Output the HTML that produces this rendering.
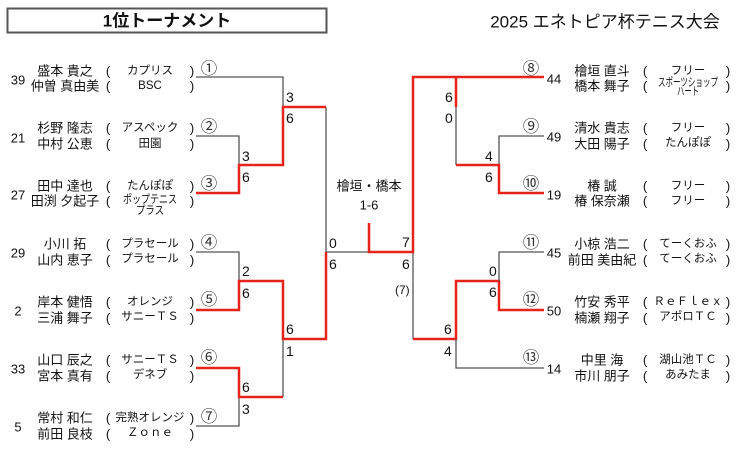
<!DOCTYPE html>
<html><head><meta charset="utf-8"><style>
html,body{margin:0;padding:0;background:#fff;}
svg{display:block;font-family:"Liberation Sans","Noto Sans CJK JP",sans-serif;}
text{dominant-baseline:central;fill:#111;}
.g{stroke:#555;stroke-width:1.3;fill:none;}
.r{stroke:#e8231b;stroke-width:2.5;fill:none;}
.n{font-size:13px;text-anchor:middle;}
.c{font-size:11.5px;text-anchor:middle;}
.s{font-size:14px;}
.o{font-size:16.5px;text-anchor:middle;fill:#333;}
</style></head><body>
<svg width="740" height="463" viewBox="0 0 740 463">
<rect x="7.5" y="8.5" width="319" height="24" fill="none" stroke="#555" stroke-width="2"/>
<text x="167" y="21" font-size="17" font-weight="bold" text-anchor="middle">1位トーナメント</text>
<text x="605" y="22" font-size="17" text-anchor="middle">2025 エネトピア杯テニス大会</text>

<path class="g" d="M196 77H283V107 M196 136H239V165 M239 193V165 M326 107V252H369 M196 252H239V281 M283 339V397 M239 397V426H196 M413 252V339"/>
<path class="r" d="M196 193H239V165H283V107H326 M283 165V107 M196 310H239V281H283V339H326V252 M196 368H239V397H283 M369 223V252H413V77H544"/>
<path class="r" d="M413 339H456V281H499V310H544"/>
<path class="g" d="M456 107V165 M499 165V136H544 M499 281V252H544 M456 339V368H544"/>
<path class="r" d="M456 77V107 M456 165H499V193H544"/>

<g class="s">
<text x="286" y="97">3</text><text x="286" y="118">6</text>
<text x="242" y="156">3</text><text x="242" y="177">6</text>
<text x="242" y="271">2</text><text x="242" y="293">6</text>
<text x="286" y="329">6</text><text x="286" y="351">1</text>
<text x="242" y="387">6</text><text x="242" y="409">3</text>
<text x="329" y="243">0</text><text x="329" y="264">6</text>
<text x="402" y="242">7</text><text x="402" y="264">6</text>
<text x="395" y="290" font-size="12">(7)</text>
<text x="445" y="97">6</text><text x="445" y="118">0</text>
<text x="485" y="156">4</text><text x="485" y="177">6</text>
<text x="489" y="271">0</text><text x="489" y="292">6</text>
<text x="444" y="329">6</text><text x="444" y="351">4</text>
</g>
<text x="369" y="186" class="n">檜垣・橋本</text>
<text x="369" y="205" class="n">1-6</text>

<g>
<text x="18" y="80" class="n">39</text><text x="65" y="71" class="n">盛本 貴之</text><text x="65" y="86" class="n">仲曽 真由美</text>
<text x="108" y="71" class="n">(</text><text x="108" y="86" class="n">(</text><text x="150" y="71" class="c">カプリス</text><text x="150" y="86" class="c" font-size="10">BSC</text>
<text x="192" y="71" class="n">)</text><text x="192" y="86" class="n">)</text><text x="209" y="69" class="o">①</text>

<text x="18" y="138" class="n">21</text><text x="65" y="128" class="n">杉野 隆志</text><text x="65" y="144" class="n">中村 公恵</text>
<text x="108" y="128" class="n">(</text><text x="108" y="144" class="n">(</text><text x="150" y="128" class="c">アスペック</text><text x="150" y="144" class="c">田園</text>
<text x="192" y="128" class="n">)</text><text x="192" y="144" class="n">)</text><text x="209" y="127" class="o">②</text>

<text x="18" y="195" class="n">27</text><text x="65" y="186" class="n">田中 達也</text><text x="65" y="201" class="n">田渕 夕起子</text>
<text x="108" y="186" class="n">(</text><text x="108" y="201" class="n">(</text><text x="150" y="186" class="c">たんぽぽ</text><text x="150" y="200" class="c" font-size="10" textLength="54" lengthAdjust="spacingAndGlyphs">ポップテニス</text><text x="150" y="211" class="c" font-size="10" textLength="28" lengthAdjust="spacingAndGlyphs">プラス</text>
<text x="192" y="186" class="n">)</text><text x="192" y="201" class="n">)</text><text x="209" y="184" class="o">③</text>

<text x="18" y="253" class="n">29</text><text x="65" y="244" class="n">小川 拓</text><text x="65" y="260" class="n">山内 恵子</text>
<text x="108" y="244" class="n">(</text><text x="108" y="260" class="n">(</text><text x="150" y="244" class="c">プラセール</text><text x="150" y="259" class="c">プラセール</text>
<text x="192" y="244" class="n">)</text><text x="192" y="260" class="n">)</text><text x="209" y="243" class="o">④</text>

<text x="18" y="311" class="n">2</text><text x="65" y="302" class="n">岸本 健悟</text><text x="65" y="318" class="n">三浦 舞子</text>
<text x="108" y="302" class="n">(</text><text x="108" y="318" class="n">(</text><text x="150" y="302" class="c">オレンジ</text><text x="150" y="317" class="c">サニーＴＳ</text>
<text x="192" y="302" class="n">)</text><text x="192" y="318" class="n">)</text><text x="209" y="300" class="o">⑤</text>

<text x="18" y="369" class="n">33</text><text x="65" y="360" class="n">山口 辰之</text><text x="65" y="376" class="n">宮本 真有</text>
<text x="108" y="360" class="n">(</text><text x="108" y="376" class="n">(</text><text x="150" y="360" class="c">サニーＴＳ</text><text x="150" y="375" class="c">デネブ</text>
<text x="192" y="360" class="n">)</text><text x="192" y="376" class="n">)</text><text x="209" y="358" class="o">⑥</text>

<text x="18" y="427" class="n">5</text><text x="65" y="418" class="n">常村 和仁</text><text x="65" y="434" class="n">前田 良枝</text>
<text x="108" y="418" class="n">(</text><text x="108" y="434" class="n">(</text><text x="150" y="418" class="c" font-size="10">完熟オレンジ</text><text x="150" y="433" class="c">Ｚｏｎｅ</text>
<text x="192" y="418" class="n">)</text><text x="192" y="434" class="n">)</text><text x="209" y="417" class="o">⑦</text>
</g>

<g>
<text x="531" y="69" class="o">⑧</text><text x="554" y="79" class="n">44</text><text x="602" y="71" class="n">檜垣 直斗</text><text x="602" y="86" class="n">橋本 舞子</text>
<text x="645" y="71" class="n">(</text><text x="645" y="86" class="n">(</text><text x="688" y="71" class="c">フリー</text><text x="688" y="83" class="c" font-size="8" textLength="60" lengthAdjust="spacingAndGlyphs">スポーツショップ</text><text x="688" y="92" class="c" font-size="8" textLength="22" lengthAdjust="spacingAndGlyphs">ハート</text>
<text x="728" y="71" class="n">)</text><text x="728" y="86" class="n">)</text>

<text x="531" y="127" class="o">⑨</text><text x="554" y="137" class="n">49</text><text x="602" y="128" class="n">清水 貴志</text><text x="602" y="144" class="n">大田 陽子</text>
<text x="645" y="128" class="n">(</text><text x="645" y="144" class="n">(</text><text x="688" y="128" class="c">フリー</text><text x="688" y="143" class="c">たんぽぽ</text>
<text x="728" y="128" class="n">)</text><text x="728" y="144" class="n">)</text>

<text x="531" y="184" class="o">⑩</text><text x="554" y="195" class="n">19</text><text x="602" y="186" class="n">椿 誠</text><text x="602" y="201" class="n">椿 保奈瀬</text>
<text x="645" y="186" class="n">(</text><text x="645" y="201" class="n">(</text><text x="688" y="186" class="c">フリー</text><text x="688" y="201" class="c">フリー</text>
<text x="728" y="186" class="n">)</text><text x="728" y="201" class="n">)</text>

<text x="531" y="243" class="o">⑪</text><text x="554" y="253" class="n">45</text><text x="602" y="244" class="n">小椋 浩二</text><text x="602" y="260" class="n">前田 美由紀</text>
<text x="645" y="244" class="n">(</text><text x="645" y="260" class="n">(</text><text x="688" y="244" class="c">てーくおふ</text><text x="688" y="259" class="c">てーくおふ</text>
<text x="728" y="244" class="n">)</text><text x="728" y="260" class="n">)</text>

<text x="531" y="300" class="o">⑫</text><text x="554" y="311" class="n">50</text><text x="602" y="302" class="n">竹安 秀平</text><text x="602" y="318" class="n">楠瀬 翔子</text>
<text x="645" y="302" class="n">(</text><text x="645" y="318" class="n">(</text><text x="688" y="302" class="c">ＲｅＦｌｅｘ</text><text x="688" y="317" class="c">アポロＴＣ</text>
<text x="728" y="302" class="n">)</text><text x="728" y="318" class="n">)</text>

<text x="531" y="358" class="o">⑬</text><text x="554" y="369" class="n">14</text><text x="602" y="360" class="n">中里 海</text><text x="602" y="376" class="n">市川 朋子</text>
<text x="645" y="360" class="n">(</text><text x="645" y="376" class="n">(</text><text x="688" y="360" class="c">湖山池ＴＣ</text><text x="688" y="375" class="c">あみたま</text>
<text x="728" y="360" class="n">)</text><text x="728" y="376" class="n">)</text>
</g>
</svg>
</body></html>
